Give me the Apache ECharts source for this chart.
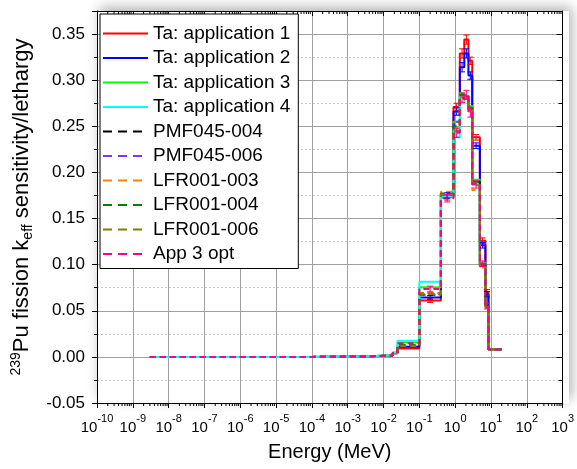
<!DOCTYPE html>
<html><head><meta charset="utf-8">
<script src="https://cdn.jsdelivr.net/npm/echarts@6/dist/echarts.min.js"></script>
<style>html,body{margin:0;padding:0;background:#fff}#c{width:577px;height:469px}</style>
</head><body><div id="c"></div>
<script>
// Energy group boundaries (MeV)
const bounds = [3e-9, 1e-8, 1e-7, 1e-6, 1e-5, 1e-4, 1e-3, 3.5e-3, 1.8e-2, 2.45e-2, 0.1, 0.4, 0.9, 1.35, 1.8, 2.35, 3.0, 4.9, 7.0, 8.5, 20];
// sensitivity per lethargy per group
const app1   = [0,0,0,0,0,0.0003,0.0006,0.0015,0.004,0.009, 0.061, 0.173,0.271,0.329,0.344,0.321,0.238,0.126,0.070,0.0085];
const app2   = [0,0,0,0,0,0.0003,0.0006,0.0015,0.004,0.011, 0.0645,0.175,0.266,0.314,0.329,0.305,0.229,0.121,0.068,0.0085];
const app3   = [0,0,0,0,0,0.0003,0.0006,0.0016,0.0045,0.0156,0.0754,0.176,0.255,0.286,0.283,0.272,0.192,0.102,0.055,0.0083];
const app4   = [0,0,0,0,0,0.0003,0.0007,0.0017,0.005,0.0174,0.0815,0.174,0.238,0.275,0.280,0.268,0.188,0.100,0.054,0.0083];
const pmf004 = [0,0,0,0,0,0.0003,0.0006,0.0015,0.004,0.013, 0.069, 0.177,0.252,0.280,0.282,0.270,0.190,0.100,0.055,0.008];
const pmf006 = [0,0,0,0,0,0.0003,0.0006,0.0015,0.004,0.012, 0.067, 0.176,0.255,0.283,0.285,0.268,0.188,0.099,0.054,0.008];
const lfr003 = [0,0,0,0,0,0.0003,0.0006,0.0015,0.004,0.013, 0.069, 0.179,0.248,0.282,0.280,0.266,0.181,0.097,0.053,0.008];
const lfr004 = [0,0,0,0,0,0.0003,0.0006,0.0015,0.004,0.013, 0.068, 0.177,0.250,0.284,0.283,0.270,0.190,0.100,0.055,0.008];
const lfr006 = [0,0,0,0,0,0.0003,0.0006,0.0015,0.004,0.012, 0.068, 0.176,0.245,0.279,0.281,0.268,0.186,0.098,0.054,0.008];
const opt3   = [0,0,0,0,0,0.0003,0.0006,0.0015,0.004,0.0148,0.0736,0.172,0.243,0.281,0.284,0.265,0.187,0.101,0.055,0.008];
// uncertainties (1 sigma) per group
const errApp1 = [0,0,0,0,0,0,0,0,0,0,0.002,0.003,0.004,0.005,0.005,0.004,0.003,0.003,0.003,0];
const errApp2 = [0,0,0,0,0,0,0,0,0,0,0.002,0.003,0.004,0.005,0.005,0.004,0.003,0.003,0.003,0];
const errOpt3 = [0,0,0,0,0,0,0,0,0,0,0.003,0.004,0.005,0.005,0.005,0.005,0.004,0.003,0.003,0];
const names = ['Ta: application 1','Ta: application 2','Ta: application 3','Ta: application 4','PMF045-004','PMF045-006','LFR001-003','LFR001-004','LFR001-006','App 3 opt'];
const yTickMin = -0.05, yTickMax = 0.375, yStep = 0.05;
const xMin = 1e-10, xMax = 1e3;

const colors = ['#ff0000','#0000ff','#00ff00','#00ffff','#000000','#8033ff','#ff8000','#008000','#808000','#ff0080'];
const dashed = [false,false,false,false,true,true,true,true,true,true];
const allVals = [app1,app2,app3,app4,pmf004,pmf006,lfr003,lfr004,lfr006,opt3];

function stepData(vals){
  const d = vals.map((v,i)=>[bounds[i], v]);
  d.push([bounds[bounds.length-1], vals[vals.length-1]]);
  return d;
}
const FONT = 'Liberation Sans, Arial, sans-serif';
const series = allVals.map((vals,i)=>({
  name: names[i], type:'line', step:'end', data: stepData(vals), symbol:'none',
  lineStyle:{color:colors[i], width:2, type: dashed[i] ? [6,4] : 'solid'},
  itemStyle:{color:colors[i]}, z: 3+i, animation:false
}));

function errSeries(vals, errs, color, z){
  const items = [];
  errs.forEach((e,i)=>{ if(e>0) items.push([Math.sqrt(bounds[i]*bounds[i+1]), vals[i], e]); });
  return {type:'custom', data: items, z: z, silent:true, animation:false, clip:false,
    renderItem:(p, api)=>{
      const x = api.value(0), y = api.value(1), e = api.value(2);
      const top = api.coord([x, y+e]), bot = api.coord([x, y-e]);
      const st = {stroke: color, lineWidth: 1};
      return {type:'group', children:[
        {type:'line', shape:{x1:top[0],y1:top[1],x2:bot[0],y2:bot[1]}, style:st},
        {type:'line', shape:{x1:top[0]-3,y1:top[1],x2:top[0]+3,y2:top[1]}, style:st},
        {type:'line', shape:{x1:bot[0]-3,y1:bot[1],x2:bot[0]+3,y2:bot[1]}, style:st}
      ]};
    }};
}
series.push(errSeries(app1, errApp1, colors[0], 13));
series.push(errSeries(app2, errApp2, colors[1], 14));
series.push(errSeries(opt3, errOpt3, colors[9], 15));

// log minor ticks for top & bottom frame
const minorX = [];
for (let k=-10;k<3;k++) for (let m=2;m<10;m++) minorX.push([m*Math.pow(10,k)]);
series.push({type:'custom', data:minorX, silent:true, clip:false, animation:false, z:20,
  renderItem:(p, api)=>{
    const v = api.value(0);
    const b = api.coord([v, yTickMin]), t = api.coord([v, yTickMax]);
    const st = {stroke:'#000', lineWidth:1};
    return {type:'group', children:[
      {type:'line', shape:{x1:b[0],y1:b[1],x2:b[0],y2:b[1]+3}, style:st},
      {type:'line', shape:{x1:t[0],y1:t[1],x2:t[0],y2:t[1]+3}, style:st}
    ]};
  }});

const chart = echarts.init(document.getElementById('c'), null, {renderer:'canvas'});
chart.setOption({
  animation:false,
  textStyle:{fontFamily:FONT},
  graphic:[{type:'rect', z:-1, shape:{x:97,y:11,width:472,height:392},
    style:{fill:'#fff', shadowBlur:12, shadowOffsetX:3, shadowOffsetY:-4, shadowColor:'rgba(0,0,0,0.3)'}}],
  grid:{left:97, right:8, top:11, bottom:66, containLabel:false},
  legend:{
    orient:'vertical', left:100, top:14, padding:[10,8,5,2],
    backgroundColor:'#fff', borderColor:'#000', borderWidth:1, borderRadius:0,
    itemWidth:45, itemHeight:14, itemGap:5.5, selectedMode:false,
    textStyle:{fontSize:19, color:'#000', fontFamily:FONT, padding:[0,0,0,0]},
    data: names.map((n,i)=>({name:n, itemStyle:{opacity:0}, lineStyle:{color:colors[i], width:2, type: dashed[i]?[9,6]:'solid'}})),
    z:30
  },
  xAxis:[{
    type:'log', logBase:10, min:xMin, max:xMax, interval:1,
    name:'Energy (MeV)', nameLocation:'middle', nameGap:39,
    nameTextStyle:{fontSize:20, color:'#000', fontFamily:FONT},
    axisLine:{show:true, onZero:false, lineStyle:{color:'#000', width:1}},
    axisTick:{show:true, inside:false, length:5, lineStyle:{color:'#000'}},
    minorTick:{show:false},
    splitLine:{show:true, lineStyle:{color:'#a0a0a0', width:1}},
    axisLabel:{margin:10, color:'#000',
      formatter:(v)=>'{b|10}{s|' + Math.round(Math.log10(v)) + '}',
      rich:{b:{fontSize:15, fontFamily:FONT, color:'#000', lineHeight:22, verticalAlign:'bottom'},
            s:{fontSize:11, fontFamily:FONT, color:'#000', verticalAlign:'top'}}}
  },{
    type:'log', logBase:10, min:xMin, max:xMax, interval:1, position:'top',
    axisLine:{show:true, onZero:false, lineStyle:{color:'#000', width:1}},
    axisTick:{show:true, inside:true, length:5, lineStyle:{color:'#000'}},
    axisLabel:{show:false}, splitLine:{show:false}
  }],
  yAxis:[{
    type:'value', min:yTickMin, max:yTickMax, interval:yStep,
    name:'{s|239}{n|Pu fission k}{b|eff}{n| sensitivity/lethargy}',
    nameLocation:'middle', nameGap:43,
    nameTextStyle:{color:'#000', fontFamily:FONT, rich:{
      n:{fontSize:22, fontFamily:FONT, color:'#000', lineHeight:26, verticalAlign:'middle'},
      s:{fontSize:14, fontFamily:FONT, color:'#000', verticalAlign:'top'},
      b:{fontSize:14, fontFamily:FONT, color:'#000', verticalAlign:'bottom'}}},
    axisLine:{show:true, onZero:false, lineStyle:{color:'#000', width:1}},
    axisTick:{show:true, inside:false, length:5, lineStyle:{color:'#000'}},
    minorTick:{show:true, splitNumber:2, length:3, lineStyle:{color:'#000'}},
    splitLine:{show:true, lineStyle:{color:'#a0a0a0', width:1}},
    minorSplitLine:{show:true, lineStyle:{color:'#c8c8c8', width:1, type:[2,2]}},
    axisLabel:{margin:12, fontSize:17, color:'#000', fontFamily:FONT, showMaxLabel:false,
      formatter:(v)=>v.toFixed(2)}
  },{
    type:'value', min:yTickMin, max:yTickMax, interval:yStep, position:'right',
    axisLine:{show:true, onZero:false, lineStyle:{color:'#000', width:1}},
    axisTick:{show:true, inside:true, length:6, lineStyle:{color:'#000'}},
    minorTick:{show:true, splitNumber:2, length:4, lineStyle:{color:'#000'}},
    axisLabel:{show:false}, splitLine:{show:false}
  }],
  series: series
});
</script></body></html>
